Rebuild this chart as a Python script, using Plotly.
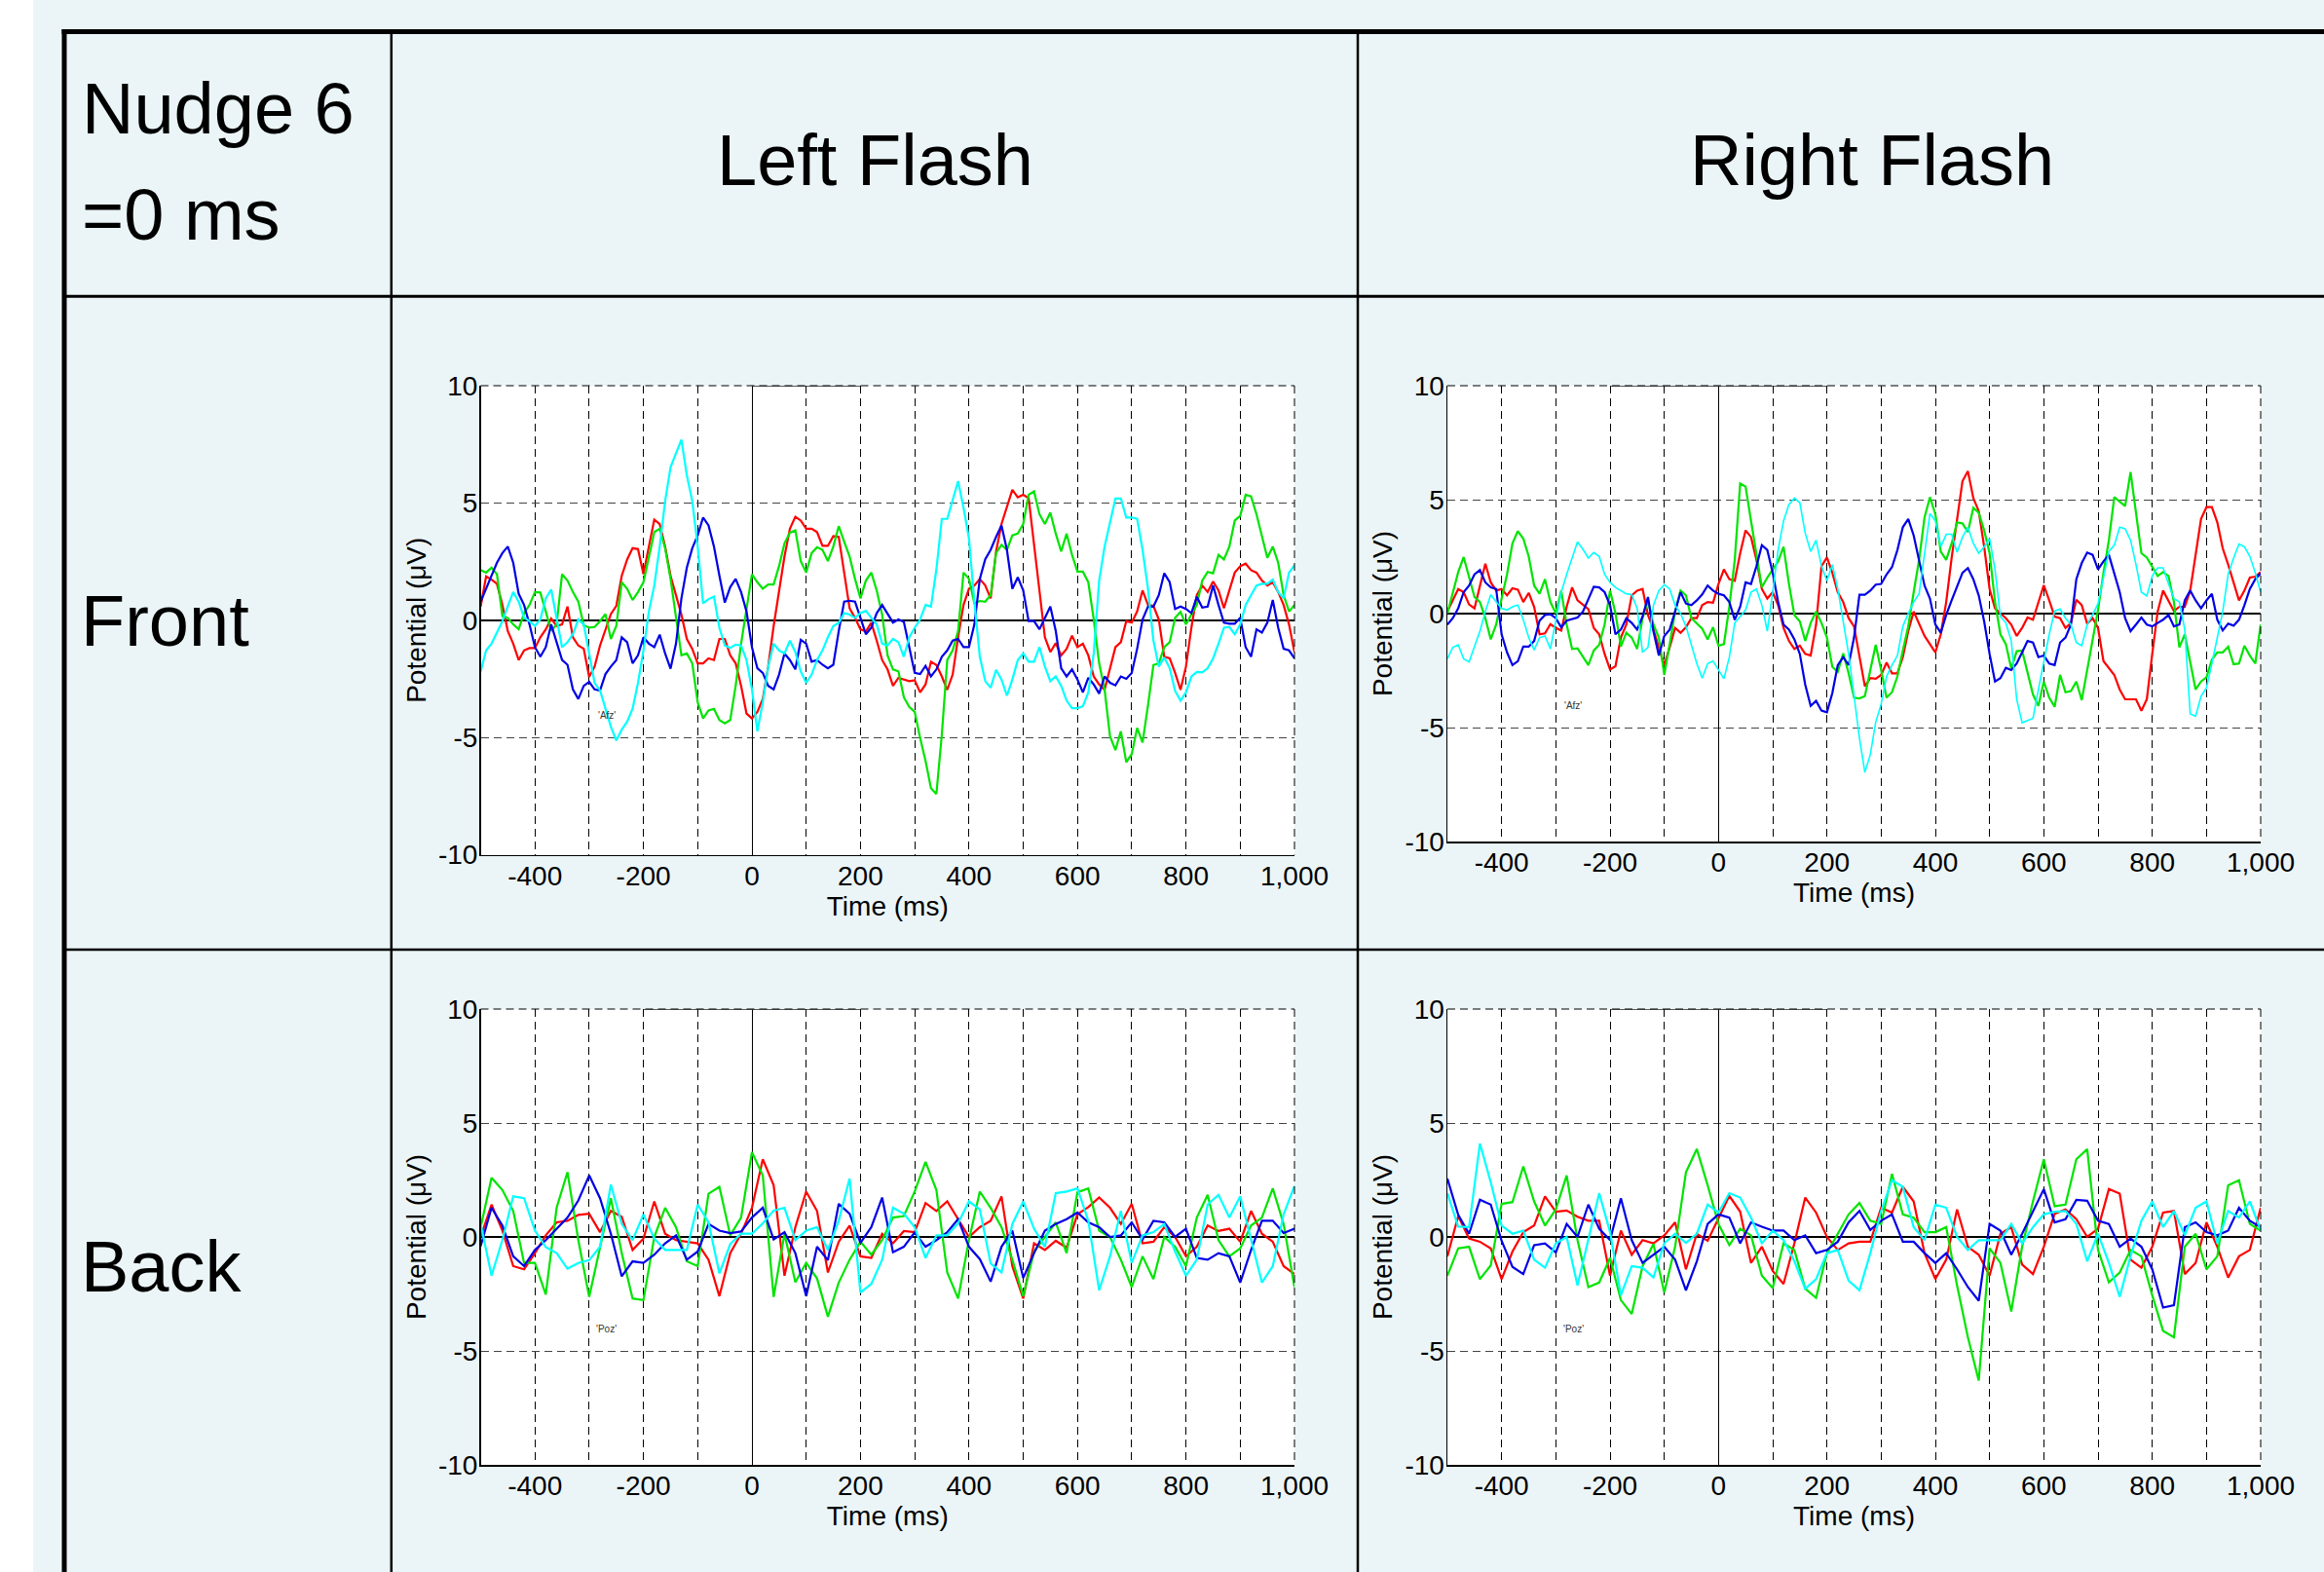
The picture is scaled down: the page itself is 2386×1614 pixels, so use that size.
import plotly.graph_objects as go

# ------------------------------------------------------------------ data
TIME_FRONT = list(range(-500, 1001, 10))
TIME_BACK = list(range(-500, 1001, 20))

X_TICK_VALUES = [-400, -200, 0, 200, 400, 600, 800, 1000]
X_TICK_LABELS = ["-400", "-200", "0", "200", "400", "600", "800", "1,000"]
X_MINOR_VALUES = [-300, -100, 100, 300, 500, 700, 900]
Y_TICK_VALUES = [-10, -5, 0, 5, 10]
Y_TICK_LABELS = ["-10", "-5", "0", "5", "10"]

ROW_LABELS = ["Front", "Back"]
COL_LABELS = ["Left Flash", "Right Flash"]
CORNER_LABELS = ["Nudge 6", "=0 ms"]
ELECTRODES = ["'Afz'", "'Poz'"]
ELECTRODE_LABEL_AT = [-268, -4.05]
STIM_FRONT_LEFT = [0, 200]
STIM_OTHERS = [-200, 200]

FRONT_LEFT_BLUE = [
    0.79, 1.34, 1.9, 2.45, 2.86, 3.14, 2.45, 1.13, 0.65, -0.18,
    -1.15, -1.56, -1.15, -0.18, -0.94, -1.7, -1.9, -2.95, -3.36, -2.8,
    -2.63, -2.95, -3.0, -2.3, -1.98, -1.7, -0.73, -0.94, -1.84, -1.5,
    -0.73, -1.0, -1.15, -0.62, -1.42, -2.07, -1.0, 0.93, 2.24, 3.07,
    3.62, 4.38, 4.04, 3.14, 1.9, 0.75, 1.41, 1.76, 1.2, 0.37,
    -1.15, -2.05, -2.25, -2.8, -2.95, -2.32, -1.42, -1.7, -2.1, -0.84,
    -1.0, -1.77, -1.7, -1.9, -2.05, -1.9, -0.46, 0.79, 0.83, 0.79,
    0.1, -0.6, -0.32, 0.3, 0.65, 0.3, -0.1, 0.03, -0.07, -1.15,
    -2.25, -2.3, -1.95, -2.4, -2.1, -1.56, -1.29, -0.87, -0.8, -1.15,
    -1.15, -0.18, 1.76, 2.6, 3.0, 3.55, 4.04, 3.0, 1.34, 1.83,
    1.27, -0.04, -0.04, -0.39, 0.1, 0.58, -0.46, -2.05, -2.4, -2.1,
    -2.53, -3.08, -2.46, -2.74, -3.13, -2.4, -2.67, -2.78, -2.4, -2.5,
    -2.25, -1.22, 0.03, 0.58, 0.58, 1.07, 2.0, 1.62, 0.48, 0.58,
    0.48, 0.3, 1.0, 0.54, 0.58, 1.48, 0.65, -0.11, -0.15, -0.15,
    0.1, -1.15, -1.56, -0.39, -0.53, -0.11, 0.86, -0.32, -1.22, -1.29,
    -1.63,
]
FRONT_LEFT_RED = [
    0.58, 1.87, 1.73, 1.55, 0.65, -0.46, -1.0, -1.7, -1.29, -1.19,
    -1.19, -0.73, -0.39, 0.07, -0.25, -0.18, 0.58, -0.73, -1.08, -1.22,
    -2.42, -1.98, -1.08, -0.39, 0.26, 0.61, 1.89, 2.59, 3.07, 3.03,
    1.96, 3.14, 4.29, 4.1, 3.14, 1.89, 1.07, 0.24, -0.8, -1.22,
    -1.84, -1.84, -1.63, -1.7, -0.8, -0.8, -1.5, -1.84, -2.8, -3.98,
    -4.19, -3.91, -3.36, -1.98, -0.25, 1.2, 2.72, 3.9, 4.41, 4.25,
    3.9, 3.9, 3.76, 3.17, 3.17, 3.58, 3.55, 2.03, 0.51, 0.1,
    -0.39, -0.48, -0.11, -0.87, -1.7, -2.1, -2.8, -2.46, -2.53, -2.6,
    -2.56, -3.08, -2.74, -1.77, -1.91, -2.4, -2.97, -2.32, -0.73, 0.65,
    1.34, 1.48, 1.76, 1.48, 0.93, 2.93, 4.1, 4.8, 5.56, 5.24,
    5.35, 5.21, 3.2, 1.18, -0.73, -1.36, -0.98, -1.5, -1.22, -0.66,
    -1.15, -1.0, -1.5, -2.4, -2.74, -2.97, -2.1, -1.15, -0.94, -0.04,
    -0.1, 0.37, 1.27, 0.65, 0.61, 0.03, -1.56, -1.63, -2.25, -2.97,
    -1.98, -0.32, 1.07, 1.48, 1.2, 1.65, 1.27, 0.51, 1.27, 2.03,
    2.3, 2.41, 2.13, 2.03, 1.69, 1.48, 1.62, 1.2, 0.65, -0.18,
    -1.36,
]
FRONT_LEFT_GREEN = [
    2.14, 2.03, 2.24, 1.96, 0.17, 0.1, -0.18, -0.39, 0.3, 0.65,
    1.2, 1.18, 0.37, -0.46, -0.18, 1.96, 1.69, 1.2, 0.79, -0.22,
    -0.32, -0.29, -0.04, 0.26, -0.8, -0.25, 1.62, 1.34, 0.86, 1.2,
    1.62, 2.66, 3.76, 3.9, 3.07, 1.76, 0.2, -1.5, -1.42, -1.84,
    -3.5, -4.19, -3.85, -3.78, -4.26, -4.4, -4.26, -2.8, -1.0, 0.51,
    1.96, 1.62, 1.34, 1.52, 1.52, 2.31, 3.28, 3.73, 3.83, 2.52,
    2.03, 2.86, 3.11, 3.0, 2.52, 3.14, 4.01, 3.35, 2.72, 1.76,
    0.93, 1.69, 2.03, 1.27, 0.24, -1.5, -2.1, -2.18, -3.29, -3.7,
    -3.91, -5.02, -6.0, -7.16, -7.41, -4.88, -1.7, -1.29, -0.46, 2.03,
    1.76, 0.72, 0.82, 0.79, 1.07, 2.86, 3.21, 3.0, 3.62, 3.69,
    4.1, 5.35, 5.49, 4.52, 4.1, 4.59, 3.69, 2.93, 3.69, 2.79,
    2.07, 2.07, 1.62, 0.03, -1.84, -2.95, -4.95, -5.54, -4.74, -6.06,
    -5.71, -4.6, -5.22, -3.64, -1.91, -1.84, -1.15, -0.94, 0.1, 0.35,
    -0.18, 0.24, 0.65, 1.69, 2.06, 2.0, 2.79, 2.59, 3.14, 4.25,
    4.45, 5.35, 5.28, 4.52, 3.62, 2.66, 3.14, 2.45, 1.07, 0.37,
    0.65,
]
FRONT_LEFT_CYAN = [
    -2.19, -1.29, -1.0, -0.5, -0.04, 0.6, 1.2, 0.79, 0.1, -0.04,
    -0.25, 0.03, 0.93, 1.31, 0.1, -1.15, -0.94, -0.6, 0.03, -0.18,
    -1.42, -2.67, -3.0, -3.78, -4.54, -5.13, -4.67, -4.33, -3.78, -2.67,
    -1.29, 0.37, 1.48, 3.14, 5.08, 6.53, 7.08, 7.7, 6.18, 5.08,
    3.14, 0.72, 0.9, 1.0, -0.32, -1.08, -1.18, -1.04, -1.08, -1.7,
    -2.95, -4.74, -3.5, -1.98, -1.0, -1.29, -1.42, -0.87, -1.36, -2.19,
    -2.67, -2.32, -1.7, -1.29, -0.73, -0.25, -0.11, 0.3, 0.24, 0.1,
    0.3, 0.4, 0.1, -0.18, -1.0, -1.08, -0.8, -0.94, -1.56, -0.73,
    -0.32, 0.03, 0.65, 0.58, 2.17, 4.32, 4.32, 5.08, 5.93, 4.8,
    3.49, 0.79, -1.56, -2.6, -2.88, -2.12, -2.53, -3.22, -2.53, -1.7,
    -1.42, -1.77, -1.77, -1.15, -1.98, -2.6, -2.4, -2.8, -3.43, -3.75,
    -3.75, -3.67, -3.08, -1.42, 1.69, 3.14, 4.1, 5.19, 5.19, 4.38,
    4.38, 4.32, 3.0, 1.34, -0.87, -1.98, -1.59, -2.05, -3.02, -3.43,
    -3.08, -2.4, -2.21, -2.23, -2.05, -1.63, -1.0, -0.32, -0.29, -0.6,
    -0.18, 0.65, 1.07, 1.48, 1.55, 1.55, 1.73, 1.2, 0.93, 2.03,
    2.34,
]

FRONT_RIGHT_BLUE = [
    -0.48, -0.2, 0.23, 0.94, 1.23, 1.72, 1.91, 1.37, 1.15, 1.08,
    -0.91, -1.7, -2.26, -2.09, -1.45, -1.45, -1.2, -0.31, -0.06, -0.03,
    -0.2, -0.6, -0.31, -0.24, -0.17, 0.09, 0.66, 1.18, 1.15, 0.94,
    0.37, -0.91, -0.7, -0.2, -0.41, -0.7, -0.13, 0.73, -0.77, -1.84,
    -0.98, -0.7, 0.09, 0.94, 0.44, 0.37, 0.58, 0.84, 1.23, 1.01,
    0.87, 0.8, 0.51, -0.27, 0.3, 1.37, 1.3, 2.08, 3.0, 2.79,
    1.79, 0.51, -0.48, -0.7, -1.13, -1.77, -3.12, -4.05, -3.83, -4.26,
    -4.33, -3.48, -2.26, -1.91, -2.26, -1.05, 0.83, 0.83, 1.01, 1.27,
    1.3, 1.72, 2.04, 2.79, 3.79, 4.15, 3.43, 2.36, 1.23, 0.66,
    -0.48, -0.84, -0.06, 0.58, 1.15, 1.79, 2.0, 1.51, 0.8, -0.34,
    -1.77, -2.98, -2.83, -2.38, -2.48, -2.19, -1.7, -1.2, -1.27, -1.91,
    -1.84, -2.19, -2.26, -1.27, -1.05, -0.48, 1.51, 2.22, 2.68, 2.58,
    1.94, 2.29, 2.58, 1.79, 0.94, -0.2, -0.77, -0.48, -0.17, -0.48,
    -0.56, -0.41, -0.27, -0.06, -0.56, -0.48, 0.58, 1.01, 0.58, 0.23,
    0.58, 0.87, -0.27, -0.74, -0.44, -0.53, -0.27, 0.37, 1.08, 1.51,
    1.77,
]
FRONT_RIGHT_RED = [
    0.09, 0.58, 1.08, 0.94, 0.4, 0.23, 1.23, 2.19, 1.37, 1.01,
    1.08, 0.8, 1.11, 1.05, 0.51, 0.91, 0.3, -0.91, -0.87, -0.46,
    -0.63, -0.74, 0.3, 1.15, 0.58, 0.37, 0.2, -0.63, -0.91, -1.77,
    -2.45, -2.31, -1.05, -0.48, 0.8, 1.01, 1.08, -0.06, -0.7, -1.48,
    -2.26, -1.48, -0.63, -0.84, -0.6, -0.2, -0.2, 0.37, 0.51, 0.48,
    1.3, 1.94, 1.51, 1.44, 2.65, 3.65, 3.36, 2.36, 1.08, 0.66,
    0.94, 0.37, -0.63, -1.2, -1.55, -1.41, -1.77, -1.84, -0.48, 2.08,
    2.46, 1.79, 0.94, 0.51, -0.2, -0.56, -1.9, -3.19, -2.83, -2.86,
    -2.69, -2.15, -2.62, -2.62, -1.91, -0.77, 0.09, -0.48, -0.98, -1.34,
    -1.7, -0.91, 0.51, 2.44, 4.07, 5.81, 6.25, 5.07, 4.5, 2.93,
    1.08, 0.23, 0.01, -0.2, -0.48, -0.98, -0.63, -0.17, -0.27, 0.51,
    1.25, 0.58, -0.13, -0.2, -0.63, -0.41, 0.61, 0.37, -0.44, -0.2,
    -0.63, -2.08, -2.41, -2.69, -3.33, -3.76, -3.76, -3.76, -4.26, -3.76,
    -1.77, 0.09, 1.01, 0.58, 0.11, 0.3, 0.3, 1.01, 2.65, 4.15,
    4.67, 4.67, 4.0, 2.86, 2.15, 1.37, 0.58, 1.01, 1.58, 1.62,
    1.82,
]
FRONT_RIGHT_GREEN = [
    0.01, 0.94, 1.82, 2.48, 1.65, 0.73, 0.51, -0.2, -1.13, -0.48,
    0.66, 1.72, 3.08, 3.62, 3.29, 2.51, 1.23, 0.87, 1.51, 0.51,
    0.01, 1.01, -0.48, -1.55, -1.52, -1.91, -2.26, -1.62, -1.37, -0.48,
    1.01, 0.01, -1.45, -0.84, -1.05, -1.55, -0.2, 0.58, -0.48, -1.05,
    -2.69, -1.34, 0.09, 1.01, 0.8, -0.2, -0.41, -0.66, -1.13, -0.6,
    -1.41, -1.34, 0.3, 2.36, 5.71, 5.57, 4.07, 2.51, 1.15, 1.58,
    1.94, 2.29, 2.93, 1.3, -0.06, -0.34, -1.2, -0.41, 0.09, -0.41,
    -1.05, -2.34, -2.55, -1.74, -2.62, -3.69, -3.72, -3.62, -2.48, -1.37,
    -2.48, -3.69, -3.45, -2.76, -1.62, -0.56, 0.94, 2.36, 4.22, 5.11,
    4.36, 2.72, 2.36, 3.08, 4.0, 3.96, 3.58, 4.64, 4.43, 3.65,
    2.65, 0.51, -0.91, -1.34, -2.41, -1.65, -1.62, -2.62, -3.55, -4.05,
    -2.98, -3.69, -4.09, -2.69, -3.45, -3.4, -2.98, -3.8, -2.48, -1.05,
    0.16, 1.79, 3.22, 5.11, 4.93, 4.72, 6.21, 4.43, 2.65, 2.46,
    2.08, 1.65, 1.82, 1.65, 0.51, -1.48, -0.91, -2.19, -3.33, -2.98,
    -2.79, -2.02, -1.7, -1.7, -1.45, -2.22, -2.19, -1.41, -1.84, -2.19,
    -0.48,
]
FRONT_RIGHT_CYAN = [
    -1.98, -1.48, -1.37, -1.98, -2.12, -1.41, -0.77, 0.09, 0.83, 0.51,
    0.23, 0.16, 0.3, 0.37, -0.27, -1.05, -1.6, -1.05, -0.98, -1.55,
    -0.34, 0.94, 1.72, 2.44, 3.15, 2.82, 2.44, 2.68, 2.51, 1.72,
    1.37, 1.15, 1.01, 0.87, 0.83, 0.23, -1.7, -1.48, 0.37, 1.01,
    1.27, 1.08, 0.37, 0.01, -0.56, -1.34, -2.19, -2.83, -2.19, -2.08,
    -2.48, -2.86, -1.91, -0.41, -0.13, 0.16, 0.94, 1.08, 0.37, -0.77,
    0.94, 2.79, 4.07, 4.79, 5.07, 4.86, 3.53, 2.72, 3.22, 2.08,
    1.44, 2.15, 1.08, -0.41, -1.77, -3.6, -5.47, -6.97, -6.18, -4.76,
    -3.97, -2.76, -2.26, -1.84, -0.56, 0.01, 0.51, 0.87, 2.65, 4.39,
    4.07, 2.93, 3.48, 3.48, 2.69, 3.36, 3.79, 3.08, 2.65, 2.93,
    3.29, 1.94, -0.13, -0.41, -1.2, -3.76, -4.79, -4.69, -4.59, -3.33,
    -2.05, -0.91, 0.11, 0.2, -0.2, -0.48, -1.27, -1.41, -0.48, -0.06,
    0.44, 1.51, 2.72, 3.0, 3.79, 3.72, 3.22, 2.15, 0.94, 0.77,
    1.65, 2.01, 2.01, 1.3, 0.66, 0.51, -0.7, -4.4, -4.5, -3.62,
    -3.26, -2.19, -1.05, 0.09, 1.72, 2.44, 3.05, 2.93, 2.51, 1.79,
    0.94,
]

BACK_LEFT_BLUE = [
    -0.4, 1.28, 0.5, -0.85, -1.28, -0.57, -0.14, 0.36, 0.85, 1.6,
    2.7, 1.7, 0.14, -1.73, -1.07, -1.14, -0.78, -0.28, 0.07, -1.0,
    -0.64, 0.57, 0.28, 0.17, 0.24, 0.85, 1.28, -0.11, 0.21, -0.71,
    -2.6, -0.43, -1.02, 1.45, 1.02, -0.26, 0.43, 1.73, -0.67, -0.43,
    0.2, -0.43, -0.14, 0.21, 0.78, -0.43, -0.97, -1.96, -0.43, 0.28,
    -1.8, -0.71, 0.28, 0.57, 0.78, 1.07, 0.64, 0.43, 0.0, 0.07,
    0.64, -0.11, 0.71, 0.64, 0.0, 0.36, -0.92, -1.0, -0.71, -0.85,
    -2.0, -0.57, 0.71, 0.71, 0.17, 0.36,
]
BACK_LEFT_RED = [
    0.0, 1.42, 0.28, -1.28, -1.42, -0.71, 0.07, 0.64, 0.71, 0.97,
    1.02, 0.21, 1.14, 0.89, -0.57, -0.07, 1.56, 0.14, -0.14, -0.21,
    -0.28, -1.0, -2.6, -0.71, 0.14, 1.28, 3.41, 2.27, -1.7, 0.43,
    1.99, 1.14, -1.56, -0.21, 0.5, -0.85, -0.92, 0.14, -0.28, 0.26,
    0.21, 1.49, 1.14, 1.56, 0.78, 0.0, 0.43, 0.71, 1.78, -1.28,
    -2.7, -0.28, -0.57, -0.17, -0.47, 1.0, 1.31, 1.73, 1.28, 0.57,
    1.45, -0.28, -0.21, 0.43, 0.0, -0.85, -0.43, 0.5, 0.26, 0.36,
    -0.21, 1.14, 0.14, -0.21, -1.28, -1.63,
]
BACK_LEFT_GREEN = [
    0.43, 2.6, 2.06, 1.14, -1.14, -1.14, -2.53, 1.28, 2.84, -0.14,
    -2.63, -0.43, 1.7, -0.71, -2.7, -2.77, 0.0, 1.28, 0.43, -1.07,
    -1.28, 1.9, 2.2, 0.07, 0.85, 3.72, 2.7, -2.63, 0.14, -1.99,
    -1.14, -1.82, -3.5, -2.0, -1.0, -0.21, -0.78, -0.14, 0.85, 0.92,
    1.99, 3.3, 2.06, -1.56, -2.7, -0.14, 1.99, 1.28, 0.43, -1.0,
    -2.6, -0.64, 0.0, 0.64, -0.71, 1.96, 2.13, 0.28, 0.0, -1.0,
    -2.2, -0.85, -1.85, 0.0, -0.43, -1.28, 0.85, 1.85, -0.14, -0.85,
    -0.5, 0.5, 0.85, 2.13, 0.57, -2.2,
]
BACK_LEFT_CYAN = [
    0.57, -1.7, -0.14, 1.78, 1.7, 0.28, -0.45, -0.71, -1.39, -1.14,
    -1.02, -0.43, 2.3, 0.57, -0.14, 0.99, -0.07, -0.57, -0.57, -0.57,
    1.42, 0.64, -1.6, -0.31, 0.14, 0.14, 0.6, 1.16, 1.28, -0.14,
    0.28, 0.43, -0.57, 0.71, 2.56, -2.44, -2.06, -1.0, 1.28, 1.02,
    0.43, -0.92, 0.07, 0.07, 0.6, 1.56, 1.21, -1.16, -1.56, 0.57,
    1.56, 0.36, -0.43, 1.92, 1.99, 2.13, 0.71, -2.34, -0.85, 1.14,
    -1.14, 0.07, 0.21, 0.57, -0.64, -1.7, -1.0, 1.42, 1.85, 0.85,
    1.78, -0.14, -2.0, -1.28, 0.99, 2.24,
]

BACK_RIGHT_BLUE = [
    2.56, 0.97, 0.14, 1.63, 1.42, -0.17, -1.31, -1.63, -0.36, -0.28,
    -0.68, 0.57, 0.0, 1.42, 0.36, -0.14, 1.7, -0.14, -1.14, -0.78,
    -0.43, -1.0, -2.34, -1.07, 0.57, 0.99, 0.85, -0.28, 0.64, 0.45,
    0.28, 0.28, -0.14, 0.07, -0.71, -0.57, -0.21, 0.64, 1.14, 0.31,
    0.71, 0.99, -0.21, -0.21, -0.71, -1.14, -0.71, -1.42, -2.2, -2.8,
    0.57, 0.28, -0.78, 0.14, 1.14, 2.1, 0.64, 0.78, 1.63, 1.59,
    0.71, 0.57, -0.43, -0.07, -0.43, -1.42, -3.1, -3.0, 0.43, 0.64,
    0.21, 0.07, 0.28, 1.28, 0.71, 0.43,
]
BACK_RIGHT_RED = [
    -0.85, 0.92, -0.07, -0.21, -0.5, -1.85, -0.64, 0.21, 0.5, 1.78,
    1.11, 1.16, 0.89, 0.71, 0.71, -1.7, 0.28, -0.78, -0.14, -0.28,
    0.07, 0.64, -1.42, 0.14, -0.17, 0.78, 1.8, 1.11, -1.14, -0.43,
    -1.49, -2.06, -0.28, 1.73, 1.07, 0.0, -0.57, -0.28, -0.21, -0.21,
    1.28, 1.07, 2.2, 1.56, -0.71, -1.85, -1.0, 1.21, -0.43, -0.78,
    -1.7, 0.14, 0.43, -1.21, -1.63, -0.43, 1.02, 1.21, 0.78, 0.0,
    0.36, 2.1, 1.9, -1.0, -1.35, -0.43, 1.07, 1.14, -1.63, -1.14,
    0.64, -0.43, -1.78, -0.85, -0.57, 1.28,
]
BACK_RIGHT_GREEN = [
    -1.7, -0.5, -0.43, -1.85, -1.25, 1.45, 1.53, 3.1, 1.56, 0.5,
    1.21, 2.7, -0.14, -2.2, -2.0, -0.92, -2.77, -3.38, -1.28, -0.31,
    -2.44, -0.43, 2.84, 3.86, 2.27, 0.57, -0.36, 0.36, 0.07, -1.7,
    -2.24, -0.28, -0.57, -2.27, -2.67, -0.71, 0.14, 0.99, 1.49, 0.71,
    0.57, 2.77, 0.99, 0.85, 0.21, 0.21, 0.43, -2.13, -4.4, -6.3,
    -0.5, -1.14, -3.27, -0.43, 1.56, 3.41, 1.35, 1.42, 3.41, 3.85,
    -0.57, -1.99, -1.56, -0.57, -0.85, -2.56, -4.12, -4.4, -0.43, 0.14,
    -1.42, -0.85, 2.27, 2.49, 0.57, 0.28,
]
BACK_RIGHT_CYAN = [
    1.92, 0.45, 0.43, 4.1, 2.4, 0.5, 0.14, 0.28, -1.0, -1.35,
    -0.28, 0.0, -2.13, -0.07, 1.92, 0.21, -2.56, -1.28, -1.35, -1.78,
    -0.28, 0.14, -0.26, 0.14, 1.42, 1.07, 1.92, 1.73, 0.85, -0.28,
    0.28, -0.14, -1.07, -2.27, -1.85, -0.71, -0.57, -1.92, -2.34, -0.71,
    1.14, 2.49, 2.2, 0.43, -0.14, 1.42, 1.28, 0.0, -0.57, -0.14,
    -0.14, -0.14, 0.57, -0.28, 0.43, 0.99, 1.11, 1.14, 0.57, -1.07,
    0.14, -1.14, -2.63, -0.85, 0.71, 1.56, 0.43, 1.14, 0.07, 1.28,
    1.56, -0.28, 1.14, 0.85, 1.56, 0.28,
]

# ------------------------------------------------------------------ style
W, H = 2386, 1614
FONT = "Liberation Sans, Arial, sans-serif"
BG = "#EBF5F7"
COLORS = {"red": "#FF0000", "green": "#00E400", "blue": "#0000E6", "cyan": "#00FFFF"}

# pixel boxes of the four plot areas (left, right, top, bottom)
PANELS = [
    dict(ax="", box=(493.5, 1329, 396, 877.5), t=TIME_FRONT,
         series=dict(red=FRONT_LEFT_RED, green=FRONT_LEFT_GREEN,
                     blue=FRONT_LEFT_BLUE, cyan=FRONT_LEFT_CYAN),
         label=ELECTRODES[0], stim=STIM_FRONT_LEFT, cyan_w=2.2),
    dict(ax="2", box=(1486, 2321, 396, 864), t=TIME_FRONT,
         series=dict(red=FRONT_RIGHT_RED, green=FRONT_RIGHT_GREEN,
                     blue=FRONT_RIGHT_BLUE, cyan=FRONT_RIGHT_CYAN),
         label=ELECTRODES[0], stim=STIM_OTHERS, cyan_w=1.6),
    dict(ax="3", box=(493.5, 1329, 1036, 1504), t=TIME_BACK,
         series=dict(red=BACK_LEFT_RED, green=BACK_LEFT_GREEN,
                     blue=BACK_LEFT_BLUE, cyan=BACK_LEFT_CYAN),
         label=ELECTRODES[1], stim=STIM_OTHERS, cyan_w=2.2),
    dict(ax="4", box=(1486, 2321, 1036, 1504), t=TIME_BACK,
         series=dict(red=BACK_RIGHT_RED, green=BACK_RIGHT_GREEN,
                     blue=BACK_RIGHT_BLUE, cyan=BACK_RIGHT_CYAN),
         label=ELECTRODES[1], stim=STIM_OTHERS, cyan_w=2.2),
]

fig = go.Figure()
layout = dict(
    width=W, height=H, margin=dict(l=0, r=0, t=0, b=0),
    paper_bgcolor=BG, plot_bgcolor="white", showlegend=False,
    font=dict(family=FONT, color="black"),
)
shapes = []
annotations = []

for p in PANELS:
    l, r, t, b = p["box"]
    xa, ya = "x" + p["ax"], "y" + p["ax"]
    for name in ["red", "green", "blue", "cyan"]:
        fig.add_trace(go.Scatter(
            x=p["t"], y=p["series"][name], mode="lines", xaxis=xa, yaxis=ya,
            line=dict(color=COLORS[name], width=p["cyan_w"] if name == "cyan" else 2.2),
            hoverinfo="skip"))
    layout["xaxis" + p["ax"]] = dict(
        domain=[l / W, r / W], anchor=ya, range=[-500, 1000],
        tickmode="array", tickvals=X_TICK_VALUES, ticktext=X_TICK_LABELS,
        ticks="", tickfont=dict(family=FONT, size=28, color="black"),
        ticklabelstandoff=-4,
        showgrid=True, gridcolor="black", gridwidth=1, griddash="8px,5px",
        minor=dict(tickmode="array", tickvals=X_MINOR_VALUES, showgrid=True,
                   gridcolor="black", gridwidth=1, griddash="8px,5px"),
        zeroline=True, zerolinecolor="black", zerolinewidth=1,
        showline=True, linecolor="black", linewidth=1.5,
        title=dict(text="Time (ms)", font=dict(family=FONT, size=28, color="black"), standoff=0),
        automargin=False, fixedrange=True,
    )
    layout["yaxis" + p["ax"]] = dict(
        domain=[1 - b / H, 1 - t / H], anchor=xa, range=[-10, 10],
        tickmode="array", tickvals=Y_TICK_VALUES, ticktext=Y_TICK_LABELS,
        ticks="", tickfont=dict(family=FONT, size=28, color="black"),
        ticklabelstandoff=-4,
        showgrid=True, gridcolor="#444444", gridwidth=1, griddash="8px,5px",
        zeroline=True, zerolinecolor="black", zerolinewidth=1.5,
        showline=True, linecolor="black", linewidth=1.5,
        title=dict(text="Potential (\u03bcV)", font=dict(family=FONT, size=28, color="black"), standoff=4),
        automargin=False, fixedrange=True,
    )
    # dashed frame on top and right, as in the original
    shapes.append(dict(type="line", xref=xa + " domain", yref=ya + " domain",
                       x0=0, x1=1, y0=1, y1=1,
                       line=dict(color="black", width=1, dash="8px,5px")))
    shapes.append(dict(type="line", xref=xa + " domain", yref=ya + " domain",
                       x0=1, x1=1, y0=1, y1=0,
                       line=dict(color="black", width=1, dash="8px,5px")))
    # stimulus bar on the top edge
    shapes.append(dict(type="line", xref=xa, yref=ya,
                       x0=p["stim"][0], x1=p["stim"][1], y0=10, y1=10,
                       line=dict(color="#222222", width=1.5)))
    annotations.append(dict(text=p["label"], xref=xa, yref=ya,
                            x=ELECTRODE_LABEL_AT[0], y=ELECTRODE_LABEL_AT[1],
                            showarrow=False, font=dict(family=FONT, size=10, color="#333333")))

# ------------------------------------------------------------------ table frame
def px(x):
    return x / W


def py(y):
    return 1 - y / H


shapes.insert(0, dict(type="rect", xref="paper", yref="paper", x0=0, x1=px(34), y0=0, y1=1,
                      fillcolor="white", line=dict(width=0), layer="below"))
table_lines = [
    # (x0, y0, x1, y1, width)
    (66, 30, 66, H, 5),          # outer left
    (63.5, 32.5, W, 32.5, 5),    # outer top
    (401.8, 32, 401.8, H, 2.5),  # after corner column
    (1394, 32, 1394, H, 2.5),    # between flashes
    (64, 304.3, W, 304.3, 3),    # below header
    (64, 975, W, 975, 2.5),      # between rows
]
for x0, y0, x1, y1, w in table_lines:
    shapes.append(dict(type="line", xref="paper", yref="paper",
                       x0=px(x0), y0=py(y0), x1=px(x1), y1=py(y1),
                       line=dict(color="black", width=w)))

BIG = 74
annotations += [
    dict(text=CORNER_LABELS[0], x=px(82), y=py(112), xanchor="left", yanchor="middle"),
    dict(text=CORNER_LABELS[1], x=px(82), y=py(220), xanchor="left", yanchor="middle"),
    dict(text=COL_LABELS[0], x=px(898), y=py(165), xanchor="center", yanchor="middle"),
    dict(text=COL_LABELS[1], x=px(1922), y=py(165), xanchor="center", yanchor="middle"),
    dict(text=ROW_LABELS[0], x=px(81), y=py(637), xanchor="left", yanchor="middle"),
    dict(text=ROW_LABELS[1], x=px(81), y=py(1300), xanchor="left", yanchor="middle"),
]
for a in annotations[-6:]:
    a.update(xref="paper", yref="paper", showarrow=False,
             font=dict(family=FONT, size=BIG, color="black"))

layout["shapes"] = shapes
layout["annotations"] = annotations
fig.update_layout(**layout)

fig.write_html("out.html", config={"displayModeBar": False, "staticPlot": True},
               post_script="document.body.style.margin='0';document.body.style.overflow='hidden';")
